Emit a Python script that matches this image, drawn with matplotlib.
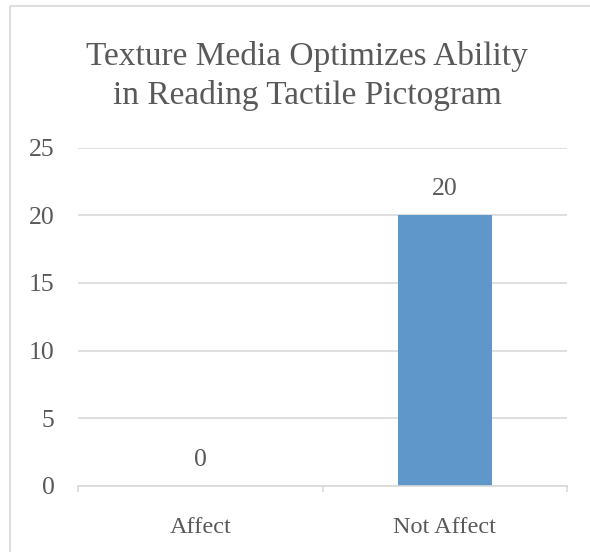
import matplotlib
matplotlib.use("Agg")
import matplotlib.pyplot as plt
from matplotlib.lines import Line2D

# data
categories = ["Affect", "Not Affect"]
values = [0, 20]
y_ticks = [0, 5, 10, 15, 20, 25]
title = "Texture Media Optimizes Ability\nin Reading Tactile Pictogram"

text_col = "#595959"
grid_col = "#D9D9D9"
bar_col = "#5F97CA"

plt.rcParams["font.family"] = ["Liberation Serif", "DejaVu Serif"]

W, H = 590, 552
fig = plt.figure(figsize=(W / 100, H / 100), dpi=100)

# plot area in pixels: x 78..567, y 147.5 (25) .. 486 (0)
ax = fig.add_axes([78 / W, 1 - 486 / H, 489 / W, (486 - 147.5) / H])

x = list(range(len(categories)))
ax.bar(x, values, width=0.385, color=bar_col, zorder=3)
for xi, v in zip(x, values):
    ax.annotate(str(v), (xi, v), xytext=(0, 11), textcoords="offset points",
                ha="center", va="bottom", fontsize=18.5, color=text_col)

ax.set_xlim(-0.5, len(categories) - 0.5)
ax.set_ylim(0, 25)
ax.set_yticks(y_ticks)
ax.set_yticklabels([str(t) for t in y_ticks])
ax.yaxis.grid(True, color=grid_col, linewidth=1.2, zorder=0)
ax.tick_params(axis="y", length=0, pad=17, labelsize=18.5, labelcolor=text_col)

ax.set_xticks(x)
ax.set_xticklabels(categories)
ax.set_xticks([-0.5, 0.5, 1.5], minor=True)
ax.tick_params(axis="x", which="major", length=0, pad=22, labelsize=17.5,
               labelcolor=text_col)
ax.tick_params(axis="x", which="minor", length=4, width=1.2, color=grid_col)

for s in ["left", "right", "top"]:
    ax.spines[s].set_visible(False)
ax.spines["bottom"].set_color(grid_col)
ax.spines["bottom"].set_linewidth(1.2)
ax.spines["bottom"].set_zorder(4)

fig.text(307 / W, 1 - 41 / H, title, ha="center", va="top", fontsize=24,
         color=text_col, linespacing=1.32)

# chart area border (only the left and top edges show in the crop)
fig.add_artist(Line2D([10 / W, 10 / W, 1.0], [0.0, 1 - 6 / H, 1 - 6 / H],
                      transform=fig.transFigure, color=grid_col, linewidth=1.2))

fig.savefig("out.png", dpi=100)
